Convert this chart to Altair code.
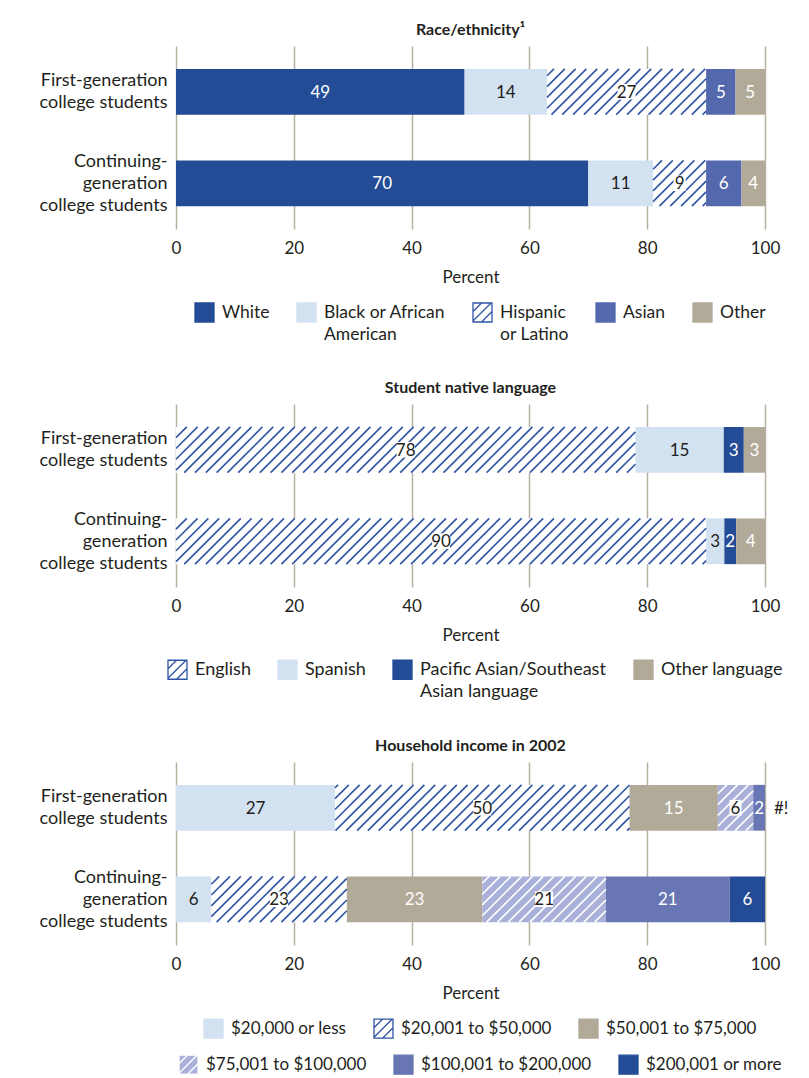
import json
import math
import altair as alt
import pandas as pd

# ---------------- data ----------------
groups = ["First-generation\ncollege students", "Continuing-\ngeneration\ncollege students"]

race_title = "Race/ethnicity\u00b9"
race_cats = ["White", "Black or African\nAmerican", "Hispanic\nor Latino", "Asian", "Other"]
race_first = [49, 14, 27, 5, 5]
race_cont = [70, 11, 9, 6, 4]
race_first_lbl = ["49", "14", "27", "5", "5"]
race_cont_lbl = ["70", "11", "9", "6", "4"]

lang_title = "Student native language"
lang_cats = ["English", "Spanish", "Pacific Asian/Southeast\nAsian language", "Other language"]
lang_first = [78, 15, 3.4, 3.6]
lang_cont = [90, 3.1, 2, 4.9]
lang_first_lbl = ["78", "15", "3", "3"]
lang_cont_lbl = ["90", "3", "2", "4"]

inc_title = "Household income in 2002"
inc_cats = ["$20,000 or less", "$20,001 to $50,000", "$50,001 to $75,000",
            "$75,001 to $100,000", "$100,001 to $200,000", "$200,001 or more"]
inc_first = [27, 50, 15, 6, 2, 0]
inc_cont = [6, 23, 23, 21, 21, 6]
inc_first_lbl = ["27", "50", "15", "6", "2", "#!"]
inc_cont_lbl = ["6", "23", "23", "21", "21", "6"]

# ---------------- styles ----------------
DARK = "#244c96"
LIGHT = "#d3e2f1"
MID = "#5468ae"
TAN = "#b1aa99"
LAV = "#aab1d9"
MID2 = "#6877b4"
HATCH = "#2f55a4"
TXT = "#231f20"
GRID = "#b8b0a0"
FONT = "Lato"
LH = 22

race_fill = [DARK, LIGHT, "#ffffff", MID, TAN]
race_hatch = [None, None, HATCH, None, None]
race_txt = ["white", TXT, TXT, "white", "white"]

lang_fill = ["#ffffff", LIGHT, DARK, TAN]
lang_hatch = [HATCH, None, None, None]
lang_txt = [TXT, TXT, "white", "white"]

inc_fill = [LIGHT, "#ffffff", TAN, LAV, MID2, DARK]
inc_hatch = [None, HATCH, None, "#ffffff", None, None]
inc_txt = [TXT, TXT, "white", TXT, "white", "white"]

W, H = 589, 183
HALF = 0.25
SPACING = 10.8

SQ = "M-1,-1H1V1H-1Z"
HATCH_SYM = SQ + "M-1,-0.1L-0.1,-1M-1,0.9L0.9,-1M-0.1,1L1,-0.1"
BOX2 = "M-1,-0.87H1V0.87H-1Z"
BOX1 = "M-0.67,-0.87H0.67V0.87H-0.67Z"


def segments(cats, series, labels, fills, hatches, txts):
    rows = []
    for r, (vals, lbls) in enumerate(zip(series, labels)):
        acc = 0.0
        for c, v, l, f, h, t in zip(cats, vals, lbls, fills, hatches, txts):
            rows.append(dict(cat=c.replace("\n", " "), r=r, start=acc, end=acc + v,
                             mid=acc + v / 2, v=v, lbl=l, hatch=h or "", tc=t,
                             y0=r - HALF, y1=r + HALF, nd=len(l)))
            acc += v
    return pd.DataFrame(rows)


def hatch_lines(df):
    rows = []
    h = 2 * HALF / 2 * H
    for _, s in df.iterrows():
        if not s.hatch or s.v <= 0:
            continue
        px0 = s.start / 100 * W
        px1 = s.end / 100 * W
        pyt = (s.r - HALF + 0.5) / 2 * H
        k0 = int(math.floor(px0 / SPACING))
        k1 = int(math.ceil((px1 + h) / SPACING))
        for k in range(k0, k1 + 1):
            c = k * SPACING
            lo = max(0.0, c - px1)
            hi = min(h, c - px0)
            if hi - lo < 0.8:
                continue
            rows.append(dict(hx=(c - lo) / W * 100, hx2=(c - hi) / W * 100,
                             hy=(pyt + lo) / H * 2 - 0.5, hy2=(pyt + hi) / H * 2 - 0.5,
                             hc=s.hatch))
    return pd.DataFrame(rows)


ylabels = [g.split("\n") for g in groups]
yoffsets = [-(len(l) - 1) * LH / 2 for l in ylabels]
yaxis = alt.Axis(values=[0, 1], labelExpr=f"{json.dumps(ylabels)}[datum.value]",
                 title=None, ticks=False, domain=False, grid=False, labelPadding=9,
                 labelFontSize=18, labelLineHeight=LH, labelAlign="right",
                 labelBaseline="middle", labelColor=TXT, labelFont=FONT,
                 labelOffset={"condition": {"test": "datum.value == 0", "value": yoffsets[0]},
                              "value": yoffsets[1]})
yscale = alt.Scale(domain=[-0.5, 1.5], reverse=True, nice=False, zero=False)
xaxis = alt.Axis(values=[0, 20, 40, 60, 80, 100], grid=True, gridColor=GRID, gridWidth=1.5,
                 ticks=False, tickSize=0, domain=False, labelPadding=11, labelFontSize=17,
                 labelFlush=False, labelColor=TXT, labelFont=FONT, title="Percent",
                 titleFontSize=17, titleFontWeight="normal", titleColor=TXT, titleFont=FONT,
                 titlePadding=13)
xscale = alt.Scale(domain=[0, 100], nice=False, zero=False)


def X(f):
    return alt.X(f, scale=xscale, axis=xaxis)


def Y(f):
    return alt.Y(f, scale=yscale, axis=yaxis)


def legend_layer(base, cats, fills, hatches, field, lx, ly, fs):
    names = [c.replace("\n", " ") for c in cats]
    nl = max(len(c.split("\n")) for c in cats)
    lines = [c.split("\n") + [""] * (nl - len(c.split("\n"))) for c in cats]
    strokes = [h if h else f for f, h in zip(fills, hatches)]
    shapes = [HATCH_SYM if h else SQ for h in hatches]
    lg = alt.Legend(title=None, orient="none", legendX=lx, legendY=ly, direction="horizontal",
                    labelExpr=f"{json.dumps(lines)}[indexof({json.dumps(names)}, datum.label)]",
                    labelFontSize=fs, labelFont=FONT, labelColor=TXT,
                    labelOffset=7, columnPadding=24, symbolSize=361, symbolOpacity=1,
                    symbolStrokeWidth=1.3, padding=0, labelBaseline="middle", labelLimit=400)
    d = base.copy()
    d[field] = d["cat"]
    return alt.Chart(d).mark_point(opacity=0, filled=True).encode(
        x=X("mid:Q"), y=Y("r:Q"),
        fill=alt.Fill(f"{field}:N", scale=alt.Scale(domain=names, range=fills), legend=lg),
        stroke=alt.Stroke(f"{field}:N", scale=alt.Scale(domain=names, range=strokes), legend=lg),
        shape=alt.Shape(f"{field}:N", scale=alt.Scale(domain=names, range=shapes), legend=lg),
    )


def panel(title, cats, series, labels, fills, hatches, txts, legend_specs, fs):
    df = segments(cats, series, labels, fills, hatches, txts)
    names = [c.replace("\n", " ") for c in cats]
    hl = hatch_lines(df)
    layers = []
    bars = alt.Chart(df).mark_rect().encode(
        x=X("start:Q"), x2="end:Q", y=Y("y0:Q"), y2="y1:Q",
        fill=alt.Fill("cat:N", scale=alt.Scale(domain=names, range=fills), legend=None),
    )
    layers.append(bars)
    for hc in sorted(set(h for h in hatches if h)):
        sub = hl[hl.hc == hc]
        layers.append(alt.Chart(sub).mark_rule(stroke=hc, strokeWidth=1.6).encode(
            x=X("hx:Q"), x2="hx2:Q", y=Y("hy:Q"), y2="hy2:Q"))
    boxed = df[(df.hatch != "") & (df.v > 0)]
    for nd, path in [(1, BOX1), (2, BOX2)]:
        sub = boxed[boxed.nd == nd]
        if len(sub):
            layers.append(alt.Chart(sub).mark_point(shape=path, filled=True, fill="white",
                                                    opacity=1, size=324, strokeWidth=0).encode(
                x=X("mid:Q"), y=Y("r:Q")))
    inside = df[df.v > 0]
    layers.append(alt.Chart(inside).mark_text(font=FONT, fontSize=17, baseline="middle", dy=1).encode(
        x=X("mid:Q"), y=Y("r:Q"), text="lbl:N", color=alt.Color("tc:N", scale=None)))
    outside = df[df.v <= 0]
    if len(outside):
        layers.append(alt.Chart(outside).mark_text(font=FONT, fontSize=17, baseline="middle",
                                                   align="left", dx=9, dy=1, color=TXT).encode(
            x=X("end:Q"), y=Y("r:Q"), text="lbl:N"))
    for i, (idx, lx, ly) in enumerate(legend_specs):
        layers.append(legend_layer(df,
                                   [cats[j] for j in range(idx[0], idx[1])],
                                   [fills[j] for j in range(idx[0], idx[1])],
                                   [hatches[j] for j in range(idx[0], idx[1])],
                                   f"leg{i}", lx, ly, fs))
    ch = alt.layer(*layers).resolve_scale(fill="independent", stroke="independent",
                                          shape="independent")
    return ch.properties(
        width=W, height=H,
        title=alt.TitleParams(title, fontSize=16, fontWeight="bold", anchor="middle",
                              font=FONT, color=TXT, baseline="alphabetic", offset=-5),
    )


p1 = panel(race_title, race_cats, [race_first, race_cont], [race_first_lbl, race_cont_lbl],
           race_fill, race_hatch, race_txt, [((0, 5), 18, 256)], 17.5)
p2 = panel(lang_title, lang_cats, [lang_first, lang_cont], [lang_first_lbl, lang_cont_lbl],
           lang_fill, lang_hatch, lang_txt, [((0, 4), -9, 255)], 18)
p3 = panel(inc_title, inc_cats, [inc_first, inc_cont], [inc_first_lbl, inc_cont_lbl],
           inc_fill, inc_hatch, inc_txt, [((0, 3), 27, 256), ((3, 6), 2, 292)], 17)

chart = alt.vconcat(p1, p2, p3, spacing=175, bounds="flush").resolve_scale(
    fill="independent", stroke="independent", shape="independent"
).configure(
    padding={"left": 31, "top": 14, "right": 5, "bottom": 5},
    style={"guide-label": {"lineHeight": LH}},
).configure_view(stroke=None)

chart.save("out.html", embed_options={"renderer": "svg", "actions": False})
